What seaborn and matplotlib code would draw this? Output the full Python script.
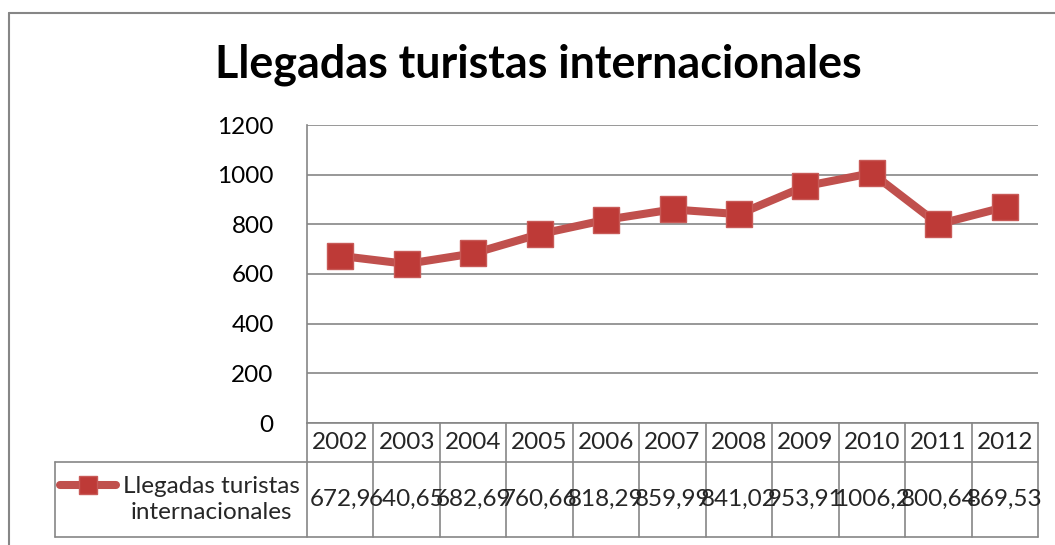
import pandas as pd
import matplotlib.pyplot as plt
import seaborn as sns
from matplotlib.lines import Line2D
from matplotlib.transforms import blended_transform_factory

years = ['2002', '2003', '2004', '2005', '2006', '2007', '2008', '2009', '2010', '2011', '2012']
llegadas = [672.9, 640.65, 682.69, 760.66, 818.29, 859.99, 841.02, 953.91, 1006.2, 800.64, 869.53]
serie = 'Llegadas turistas\ninternacionales'

data = pd.DataFrame({'Año': years, 'Llegadas': llegadas})

sns.set_style('white')
plt.rcParams['font.family'] = ['Lato', 'DejaVu Sans']

linea = '#c0504d'
marca = '#be3a37'
gris = '#868686'
fs = 17.5

fig = plt.figure(figsize=(10.55, 5.45), dpi=100)
W, H = 1055, 545
ax = fig.add_axes([307 / W, 1 - 423 / H, (1038 - 307) / W, (423 - 125) / H])

sns.lineplot(data=data, x='Año', y='Llegadas', ax=ax, color=linea, linewidth=5.8,
             marker='s', markersize=19, markerfacecolor=marca, markeredgecolor='#c85a57',
             markeredgewidth=1, sort=False)

ax.set_xlim(-0.5, len(years) - 0.5)
ax.set_ylim(0, 1200)
ax.set_yticks(range(0, 1201, 200))
ax.tick_params(axis='y', labelsize=fs, length=0, pad=24, colors='black')
ax.set_xticks([])
ax.set_xlabel('')
ax.set_ylabel('')
ax.grid(axis='y', color=gris, linewidth=1.2)
for s in ['top', 'right']:
    ax.spines[s].set_visible(False)
for s in ['left', 'bottom']:
    ax.spines[s].set_color(gris)
    ax.spines[s].set_linewidth(1.2)

# tabla de datos bajo el eje
tr = blended_transform_factory(ax.transData, ax.transAxes)
h = (423 - 125)
y_head = -(462 - 423) / h
y_bot = -(537 - 423) / h
x_leg = -0.5 - (307 - 55) / ((1038 - 307) / len(years))
kw = dict(transform=tr, color=gris, linewidth=1.2, clip_on=False)
ax.add_line(Line2D([x_leg, len(years) - 0.5], [y_head, y_head], **kw))
ax.add_line(Line2D([x_leg, len(years) - 0.5], [y_bot, y_bot], **kw))
ax.add_line(Line2D([x_leg, x_leg], [y_head, y_bot], **kw))
for i in range(len(years) + 1):
    ax.add_line(Line2D([i - 0.5, i - 0.5], [0, y_bot], **kw))

for i, (yr, v) in enumerate(zip(years, llegadas)):
    ax.text(i, y_head / 2, yr, transform=tr, ha='center', va='center', fontsize=fs)
    ax.text(i, (y_head + y_bot) / 2, str(v).replace('.', ','), transform=tr,
            ha='center', va='center', fontsize=fs)

# muestra de la leyenda en la tabla
ym = y_head + (y_bot - y_head) * 0.3
ax.add_line(Line2D([x_leg + 0.07, x_leg + 0.92], [ym, ym], transform=tr, color=linea,
                   linewidth=5.8, solid_capstyle='round', clip_on=False))
ax.add_line(Line2D([x_leg + 0.5], [ym], transform=tr, marker='s', markersize=13,
                   markerfacecolor=marca, markeredgecolor='#c85a57', clip_on=False))
ax.text(x_leg + 2.35, (y_head + y_bot) / 2, serie, transform=tr,
        ha='center', va='center', fontsize=fs, linespacing=1.3)

fig.text(0.51, 1 - 65 / H, 'Llegadas turistas internacionales', ha='center', va='center',
         fontsize=32.3, fontweight='bold', color='black')

# borde exterior del gráfico
fig.add_artist(Line2D([9 / W, 9 / W], [1 - 13 / H, 0], transform=fig.transFigure, color=gris, linewidth=1.5))
fig.add_artist(Line2D([9 / W, 1], [1 - 13 / H, 1 - 13 / H], transform=fig.transFigure, color=gris, linewidth=1.5))

fig.savefig('out.png', dpi=100)
